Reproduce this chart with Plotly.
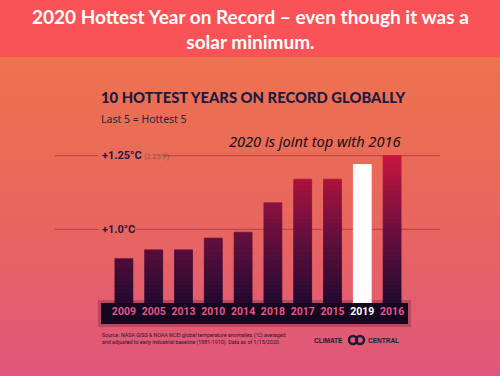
import base64
import numpy as np
import plotly.graph_objects as go

# ---------------- data ----------------
years = ["2009", "2005", "2013", "2010", "2014", "2018", "2017", "2015", "2019", "2016"]
anomaly_c = [0.90, 0.93, 0.93, 0.97, 0.99, 1.09, 1.17, 1.17, 1.22, 1.25]
highlight_year = "2019"
ref_levels = [1.0, 1.25]
ref_labels = ["+1.0°C", "+1.25°C"]
ref_sub = ["", "(2.25°F)"]

W, H = 500, 376
L, R, T, B = 109, 93, 150, 73
PW, PH = W - L - R, H - T - B
Y_RANGE = [0.7497, 1.2694]


def px(xp):
    return (xp - L) / PW


def py(yp):
    return (H - B - yp) / PH


# background (banner + vertical gradient) as an SVG layout image
svg = f"""<svg xmlns='http://www.w3.org/2000/svg' width='{W}' height='{H}' viewBox='0 0 {W} {H}' preserveAspectRatio='none'>
<defs><linearGradient id='g' x1='0' y1='0' x2='0' y2='1'>
<stop offset='0' stop-color='#ED724E'/><stop offset='0.5' stop-color='#E8665E'/><stop offset='1' stop-color='#E1567B'/>
</linearGradient></defs>
<rect x='0' y='57' width='{W}' height='{H-57}' fill='url(#g)'/>
<rect x='0' y='0' width='{W}' height='57' fill='#F95257'/>
</svg>"""
bg_src = "data:image/svg+xml;base64," + base64.b64encode(svg.encode()).decode()


def bar_color(v):
    stops = [(0.75, (34, 10, 48)), (1.00, (108, 15, 62)), (1.25, (200, 21, 61))]
    if v <= stops[0][0]:
        c = stops[0][1]
    elif v >= stops[-1][0]:
        c = stops[-1][1]
    else:
        for (a, ca), (b, cb) in zip(stops[:-1], stops[1:]):
            if a <= v <= b:
                t = (v - a) / (b - a)
                c = tuple(ca[k] + (cb[k] - ca[k]) * t for k in range(3))
                break
    return "rgb(%d,%d,%d)" % tuple(int(round(x)) for x in c)


fig = go.Figure()
levels = np.linspace(0.70, 1.26, 41)
for lo, hi in zip(levels[:-1], levels[1:]):
    heights = [(min(v, hi) - lo) if v > lo + 1e-9 else None for v in anomaly_c]
    col = bar_color((lo + hi) / 2)
    colors = ["#FFFFFF" if y == highlight_year else col for y in years]
    if all(h is None for h in heights):
        continue
    fig.add_trace(go.Bar(
        x=years, y=heights, base=lo, width=0.6,
        marker=dict(color=colors, line=dict(width=0.8, color=colors)),
        showlegend=False, hoverinfo="skip",
    ))

CF = "Roboto, Lato, sans-serif"

shapes = []
# gridlines with gaps for labels
grid_col = "rgba(170,50,55,0.6)"
gaps = {1.25: (98, 163), 1.0: (98, 134)}
for lvl in ref_levels:
    g0, g1 = gaps[lvl]
    for a, b in [(55, g0), (g1, 440)]:
        shapes.append(dict(type="line", layer="below", xref="paper", yref="y",
                           x0=px(a), x1=px(b), y0=lvl, y1=lvl,
                           line=dict(color=grid_col, width=1.3)))
# label band + shadow
shapes.append(dict(type="rect", layer="below", xref="paper", yref="paper",
                   x0=px(98), x1=px(411), y0=py(300), y1=py(327),
                   fillcolor="rgba(40,5,30,0.22)", line=dict(width=0)))
shapes.append(dict(type="rect", layer="below", xref="paper", yref="paper",
                   x0=px(101), x1=px(408), y0=py(303), y1=py(324),
                   fillcolor="#14071F", line=dict(width=0)))
# logo rings
for cx in (353, 360):
    shapes.append(dict(type="circle", layer="above", xref="paper", yref="paper",
                       x0=px(cx - 4), x1=px(cx + 4), y0=py(344), y1=py(336),
                       line=dict(color="#1E1A3C", width=2.5)))

ann = []
ann.append(dict(text="2020 Hottest Year on Record – even though it was a<br>solar minimum.",
                xref="paper", yref="paper", x=px(250), y=py(29), xanchor="center", yanchor="middle",
                showarrow=False, align="center",
                font=dict(family="Lato, Noto Sans, sans-serif", size=19, color="#FFFFFF", weight="bold")))
ann.append(dict(text="10 HOTTEST YEARS ON RECORD GLOBALLY",
                xref="paper", yref="paper", x=px(99), y=py(97), xanchor="left", yanchor="middle",
                showarrow=False,
                font=dict(family="Lato, Roboto, sans-serif", size=14.8, color="#1B1A40", weight=900)))
ann.append(dict(text="Last 5 = Hottest 5",
                xref="paper", yref="paper", x=px(99), y=py(119), xanchor="left", yanchor="middle",
                showarrow=False,
                font=dict(family="Noto Sans, sans-serif", size=10.5, color="#2A1F3F")))
ann.append(dict(text="<i>2020 is joint top with 2016</i>",
                xref="paper", yref="paper", x=px(227), y=py(141), xanchor="left", yanchor="middle",
                showarrow=False,
                font=dict(family="Noto Sans, sans-serif", size=14.6, color="#111111")))
for lvl, lab, sub in zip(ref_levels, ref_labels, ref_sub):
    txt = f"<b>{lab}</b>"
    if sub:
        txt += f" <span style='font-size:7px;color:#8C4A52'>{sub}</span>"
    ann.append(dict(text=txt, xref="paper", yref="y", x=px(100), y=lvl,
                    xanchor="left", yanchor="middle", showarrow=False,
                    font=dict(family=CF, size=11, color="#1B1A40")))
ann.append(dict(text="Source: NASA GISS & NOAA NCEI global temperature anomalies (°C) averaged<br>"
                     "and adjusted to early industrial baseline (1881-1910). Data as of 1/15/2020.",
                xref="paper", yref="paper", x=px(100), y=py(339), xanchor="left", yanchor="middle",
                showarrow=False, align="left",
                font=dict(family=CF, size=5.3, color="#2A1530")))
ann.append(dict(text="<b>CLIMATE</b>", xref="paper", yref="paper", x=px(345), y=py(340),
                xanchor="right", yanchor="middle", showarrow=False,
                font=dict(family="Liberation Sans, sans-serif", size=6.5, color="#1E1A3C")))
ann.append(dict(text="<b>CENTRAL</b>", xref="paper", yref="paper", x=px(366), y=py(340),
                xanchor="left", yanchor="middle", showarrow=False,
                font=dict(family="Liberation Sans, sans-serif", size=6.5, color="#1E1A3C")))

ticktext = [f"<span style='color:#FFFFFF'>{y}</span>" if y == highlight_year else y for y in years]

fig.update_layout(
    width=W, height=H,
    margin=dict(l=L, r=R, t=T, b=B, pad=0, autoexpand=False),
    paper_bgcolor="#E8665E", plot_bgcolor="rgba(0,0,0,0)",
    barmode="overlay",
    shapes=shapes, annotations=ann,
    images=[dict(source=bg_src, xref="paper", yref="paper", x=-L / PW, y=1 + T / PH,
                 sizex=W / PW, sizey=H / PH, xanchor="left", yanchor="top",
                 sizing="stretch", layer="below")],
    xaxis=dict(type="category", categoryorder="array", categoryarray=years,
               tickvals=years, ticktext=ticktext, showgrid=False, showline=False,
               zeroline=False, ticks="", tickangle=0, fixedrange=True, automargin=False,
               tickfont=dict(family=CF, size=10.5, color="#E8558A", weight="bold")),
    yaxis=dict(range=Y_RANGE, visible=False, showgrid=False, fixedrange=True),
    showlegend=False,
)

fig.write_html("out.html", config={"displayModeBar": False},
               post_script="document.body.style.margin='0px';")
